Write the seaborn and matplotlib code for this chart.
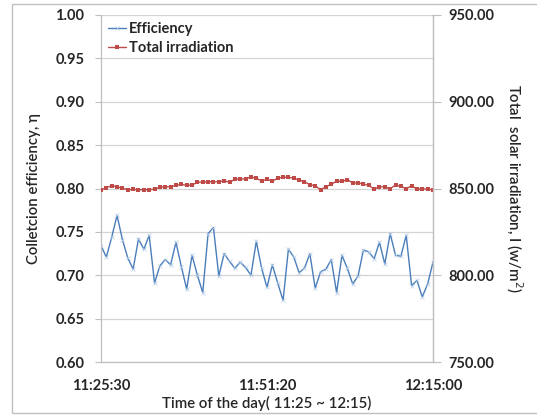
import matplotlib
matplotlib.use("Agg")
import matplotlib.pyplot as plt
import matplotlib.patches as mpatches
import seaborn as sns
import numpy as np
import pandas as pd

efficiency = [0.734, 0.721, 0.744, 0.769, 0.741, 0.720, 0.707, 0.742, 0.730, 0.746,
              0.691, 0.711, 0.718, 0.712, 0.738, 0.710, 0.684, 0.723, 0.700, 0.680,
              0.748, 0.755, 0.699, 0.725, 0.716, 0.708, 0.715, 0.709, 0.700, 0.739,
              0.708, 0.686, 0.712, 0.691, 0.671, 0.730, 0.721, 0.703, 0.708, 0.725,
              0.685, 0.704, 0.707, 0.718, 0.680, 0.723, 0.708, 0.690, 0.699, 0.729,
              0.727, 0.719, 0.738, 0.713, 0.748, 0.723, 0.722, 0.746, 0.688, 0.694,
              0.675, 0.690, 0.715]

irradiation = [849.1, 850.5, 851.6, 851.0, 850.1, 849.3, 849.5, 849.3, 849.3, 849.3,
               849.7, 850.7, 851.0, 851.0, 851.8, 852.4, 851.8, 852.0, 853.6, 853.6,
               853.9, 853.9, 853.9, 854.5, 853.6, 855.3, 855.5, 855.5, 856.6, 855.9,
               854.3, 855.3, 854.3, 855.9, 856.5, 856.5, 855.9, 854.9, 853.9, 852.2,
               851.6, 849.3, 851.0, 852.4, 854.3, 854.1, 855.1, 853.2, 853.2, 852.6,
               851.8, 849.7, 851.0, 850.9, 849.9, 852.0, 851.2, 849.9, 851.6, 849.7,
               849.7, 849.7, 849.1]

tick_positions = [0, 31, 62]
tick_labels = ["11:25:30", "11:51:20", "12:15:00"]

idx = np.arange(len(efficiency))
df = pd.DataFrame({"idx": idx, "eff": efficiency, "irr": irradiation})

sns.set_style("white")
plt.rcParams['font.family'] = ['Lato', 'DejaVu Sans']

fig = plt.figure(figsize=(5.37, 4.17), dpi=100)
ax = fig.add_axes([101/537, 1 - 362/417, (433 - 101)/537, (362 - 15)/417])
ax2 = ax.twinx()

blue = "#4A7EBB"
red = "#BE4B48"
grid_c = "#D4D4D4"

sns.lineplot(data=df, x="idx", y="eff", ax=ax, color=blue, lw=1.0,
             marker="x", markersize=2.2, markeredgewidth=0.5,
             markeredgecolor="#B5CBE6", label="Efficiency", legend=False)
sns.lineplot(data=df, x="idx", y="irr", ax=ax2, color=red, lw=1.0,
             marker="s", markersize=2.8, markeredgewidth=0,
             label="Total irradiation", legend=False)

ax.set_xlim(0, 62)
ax.set_ylim(0.60, 1.00)
ax2.set_ylim(750, 950)
ax.set_yticks(np.arange(0.60, 1.001, 0.05))
ax2.set_yticks(np.arange(750, 950.1, 50))
ax.set_yticklabels([f"{v:.2f}" for v in np.arange(0.60, 1.001, 0.05)])
ax2.set_yticklabels([f"{v:.2f}" for v in np.arange(750, 950.1, 50)])
ax.set_xticks(tick_positions)
ax.set_xticklabels(tick_labels)

ax.yaxis.grid(True, color=grid_c, lw=0.9)
ax.set_axisbelow(True)

for a in (ax, ax2):
    a.spines["top"].set_visible(False)
    for s in ("left", "right", "bottom"):
        a.spines[s].set_color("#BFBFBF")
        a.spines[s].set_linewidth(0.9)
ax2.spines["left"].set_visible(False)
ax2.spines["bottom"].set_visible(False)

ax.tick_params(axis="y", length=4, width=0.8, color="#BFBFBF", pad=8,
               labelsize=10.5)
ax2.tick_params(axis="y", length=6, width=0.8, color="#BFBFBF", pad=5,
                labelsize=10.5)
ax.tick_params(axis="x", length=0, pad=12, labelsize=10.5)
for lab in ax.get_yticklabels() + ax.get_xticklabels() + ax2.get_yticklabels():
    lab.set_fontweight("bold")

ax.set_xlabel("Time of the day( 11:25 ~ 12:15)", fontsize=10.8,
              fontweight="semibold", labelpad=2)
ax.set_ylabel("Colletcion efficiency, η", fontsize=10.8,
              fontweight="semibold", labelpad=10)
ax2.set_ylabel("Total  solar irradiation, I (w/m$^{2}$)", fontsize=10.8,
               fontweight="semibold", rotation=270, labelpad=22)

h1, l1 = ax.get_legend_handles_labels()
h2, l2 = ax2.get_legend_handles_labels()
leg = ax2.legend(h1 + h2, l1 + l2, loc="upper left", frameon=False,
                 handlelength=1.2, handletextpad=0.2, borderaxespad=0.1,
                 labelspacing=0.35, prop={"weight": "bold", "size": 10.5})

# outer chart frame
fig.patches.append(mpatches.Rectangle((12/537, 4/417), 1.2, (413 - 4)/417,
                                      transform=fig.transFigure, fill=False,
                                      edgecolor="#BFBFBF", lw=1.0))

fig.savefig("out.png", dpi=100)
